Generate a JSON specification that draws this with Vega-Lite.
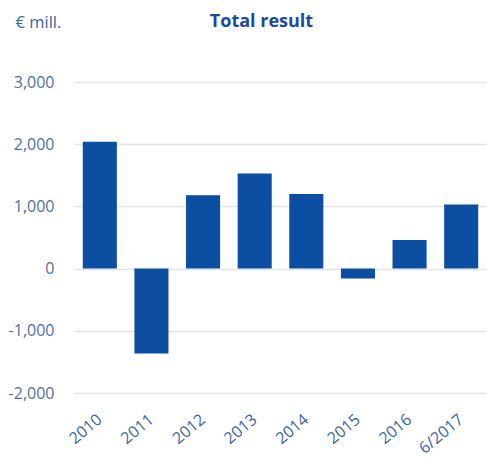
{
  "$schema": "https://vega.github.io/schema/vega-lite/v6.json",
  "autosize": "none",
  "padding": {"left": 74, "top": 82, "right": 0, "bottom": 64},
  "width": 413,
  "height": 311,
  "background": "white",
  "config": {"view": {"stroke": null}, "font": "Open Sans"},
  "title": {
    "text": "Total result",
    "frame": "group",
    "anchor": "middle",
    "dx": -19,
    "offset": -31,
    "baseline": "alphabetic",
    "fontSize": 18,
    "fontWeight": "bold",
    "color": "#1a4a9a",
    "font": "Open Sans"
  },
  "data": {
    "values": [
      {"year": "2010", "value": 2040},
      {"year": "2011", "value": -1365},
      {"year": "2012", "value": 1180},
      {"year": "2013", "value": 1530},
      {"year": "2014", "value": 1200},
      {"year": "2015", "value": -160},
      {"year": "2016", "value": 460},
      {"year": "6/2017", "value": 1030}
    ]
  },
  "mark": {"type": "bar", "color": "#0b4ea2"},
  "encoding": {
    "x": {
      "field": "year",
      "type": "nominal",
      "sort": null,
      "scale": {"paddingInner": 0.34, "paddingOuter": 0.17},
      "axis": {
        "title": null,
        "orient": "bottom",
        "labelAngle": -40,
        "labelAlign": "right",
        "labelBaseline": "middle",
        "labelPadding": 24,
        "labelFontSize": 16,
        "labelColor": "#3d64a3",
        "ticks": false,
        "domain": false,
        "grid": false
      }
    },
    "y": {
      "field": "value",
      "type": "quantitative",
      "scale": {"domain": [-2000, 3000], "nice": false},
      "axis": {
        "values": [-2000, -1000, 0, 1000, 2000, 3000],
        "labelExpr": "datum.value < 0 ? '-' + format(-datum.value, ',d') : format(datum.value, ',d')",
        "title": "€ mill.",
        "titleAngle": 0,
        "titleAlign": "left",
        "titleBaseline": "alphabetic",
        "titleX": -59,
        "titleY": -55,
        "titleFontSize": 16.5,
        "titleFontWeight": "normal",
        "titleColor": "#3d64a3",
        "labelFontSize": 16,
        "labelColor": "#4f70a6",
        "labelPadding": 20,
        "ticks": false,
        "domain": false,
        "grid": true,
        "gridColor": "#e4e4e4",
        "gridWidth": 1.5
      }
    }
  }
}
